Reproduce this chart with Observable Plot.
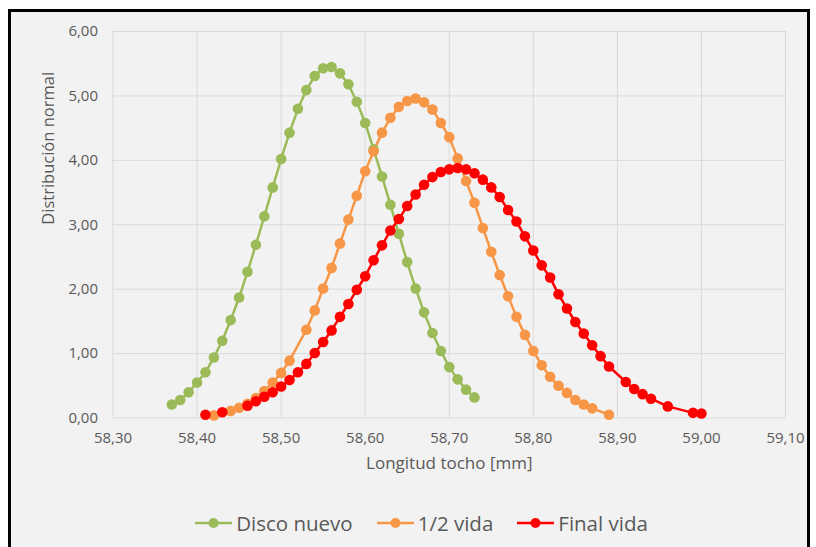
<!DOCTYPE html>
<html>
<head>
<meta charset="utf-8">
<script src="https://cdn.jsdelivr.net/npm/d3@7"></script>
<script src="https://cdn.jsdelivr.net/npm/@observablehq/plot@0.6"></script>
<style>
  html, body { margin: 0; padding: 0; background: #fff; width: 816px; height: 547px; overflow: hidden; }
  #frame { position: absolute; left: 8px; top: 9px; width: 802px; height: 560px; box-sizing: border-box;
           border: 3px solid #000; background: #f2f2f2; }
  #chart { position: absolute; left: 0; top: 0; }
  #legend { position: absolute; left: 0; top: 509px; width: 816px; display: flex; justify-content: center;
            font-family: "Open Sans", sans-serif; font-size: 20.5px; color: #595959; padding-left: 27px; box-sizing: border-box; }
  .item { display: flex; align-items: center; margin: 0 12px; }
  .item svg { margin-right: 4px; }
</style>
</head>
<body>
<div id="frame"></div>
<div id="chart"></div>
<div id="legend"></div>
<script>
// ---- data ----
const seriesNames = ["Disco nuevo", "1/2 vida", "Final vida"];
const seriesColors = ["#9bbb59", "#f79646", "#ff0000"];

const discoX = [58.37,58.38,58.39,58.40,58.41,58.42,58.43,58.44,58.45,58.46,58.47,58.48,58.49,58.50,58.51,58.52,58.53,58.54,58.55,58.56,58.57,58.58,58.59,58.60,58.61,58.62,58.63,58.64,58.65,58.66,58.67,58.68,58.69,58.70,58.71,58.72,58.73];
const discoY = [0.21,0.28,0.40,0.55,0.71,0.94,1.20,1.52,1.87,2.27,2.69,3.13,3.58,4.02,4.43,4.80,5.09,5.31,5.43,5.45,5.35,5.18,4.91,4.58,4.17,3.75,3.31,2.86,2.42,2.01,1.64,1.32,1.04,0.79,0.60,0.44,0.32];

const mediaX = [58.42,58.44,58.45,58.46,58.47,58.48,58.49,58.50,58.51,58.53,58.54,58.55,58.56,58.57,58.58,58.59,58.60,58.61,58.62,58.63,58.64,58.65,58.66,58.67,58.68,58.69,58.70,58.71,58.72,58.73,58.74,58.75,58.76,58.77,58.78,58.79,58.80,58.81,58.82,58.83,58.84,58.85,58.86,58.87,58.89];
const mediaY = [0.04,0.11,0.16,0.22,0.31,0.42,0.55,0.70,0.89,1.37,1.67,2.01,2.33,2.71,3.08,3.45,3.83,4.14,4.43,4.66,4.83,4.92,4.96,4.90,4.79,4.58,4.36,4.03,3.68,3.34,2.95,2.58,2.22,1.89,1.57,1.29,1.04,0.82,0.64,0.50,0.39,0.28,0.21,0.15,0.05];

const finalX = [58.41,58.43,58.46,58.47,58.48,58.49,58.50,58.51,58.52,58.53,58.54,58.55,58.56,58.57,58.58,58.59,58.60,58.61,58.62,58.63,58.64,58.65,58.66,58.67,58.68,58.69,58.70,58.71,58.72,58.73,58.74,58.75,58.76,58.77,58.78,58.79,58.80,58.81,58.82,58.83,58.84,58.85,58.86,58.87,58.88,58.89,58.91,58.92,58.93,58.94,58.96,58.99,59.00];
const finalY = [0.05,0.09,0.19,0.26,0.33,0.40,0.49,0.59,0.71,0.84,1.01,1.18,1.36,1.57,1.77,1.99,2.20,2.45,2.68,2.91,3.09,3.29,3.47,3.62,3.74,3.82,3.86,3.88,3.86,3.80,3.70,3.58,3.43,3.23,3.05,2.82,2.60,2.37,2.18,1.92,1.70,1.49,1.31,1.13,0.96,0.80,0.56,0.45,0.37,0.30,0.18,0.08,0.07];

const xTicks = [58.3,58.4,58.5,58.6,58.7,58.8,58.9,59.0,59.1];
const yTicks = [0,1,2,3,4,5,6];
const xTitle = "Longitud tocho [mm]";
const yTitle = "Distribución normal";

// ---- build ----
const seriesX = [discoX, mediaX, finalX];
const seriesY = [discoY, mediaY, finalY];
const rows = seriesNames.flatMap((name, i) => seriesX[i].map((x, j) => ({serie: name, x, y: seriesY[i][j]})));
const fmt = d => d.toFixed(2).replace(".", ",");
const font = '"Open Sans", sans-serif';

const plot = Plot.plot({
  width: 816,
  height: 470,
  marginLeft: 112.5,
  marginRight: 31,
  marginTop: 31,
  marginBottom: 52.5,
  style: {background: "transparent", fontFamily: font, color: "#595959", overflow: "visible"},
  x: {domain: [58.3, 59.1]},
  y: {domain: [0, 6]},
  color: {domain: seriesNames, range: seriesColors},
  marks: [
    Plot.gridX(xTicks, {stroke: "#d9d9d9", strokeOpacity: 1, strokeWidth: 1}),
    Plot.gridY(yTicks, {stroke: "#d9d9d9", strokeOpacity: 1, strokeWidth: 1}),
    Plot.axisX(xTicks, {tickSize: 0, tickPadding: 14, tickFormat: fmt, fontSize: 15, fill: "#595959", label: null}),
    Plot.axisY(yTicks, {tickSize: 0, tickPadding: 15, tickFormat: fmt, fontSize: 15, fill: "#595959", label: null}),
    Plot.text([xTitle], {frameAnchor: "bottom", dy: 51, fontSize: 17, fill: "#595959", fontFamily: font}),
    Plot.text([yTitle], {frameAnchor: "left", dx: -64, rotate: -90, fontSize: 16.5, fill: "#595959", fontFamily: font}),
    Plot.line(rows, {x: "x", y: "y", z: "serie", stroke: "serie", strokeWidth: 2.5}),
    Plot.dot(rows, {x: "x", y: "y", fill: "serie", r: 5.3, stroke: "none"})
  ]
});
document.getElementById("chart").appendChild(plot);

// ---- legend ----
const legend = document.getElementById("legend");
seriesNames.forEach((name, i) => {
  const item = document.createElement("div");
  item.className = "item";
  item.innerHTML = `<svg width="37" height="14"><line x1="0" y1="7" x2="37" y2="7" stroke="${seriesColors[i]}" stroke-width="2.5"/><circle cx="18.5" cy="7" r="5" fill="${seriesColors[i]}"/></svg><span>${name}</span>`;
  legend.appendChild(item);
});
</script>
</body>
</html>
